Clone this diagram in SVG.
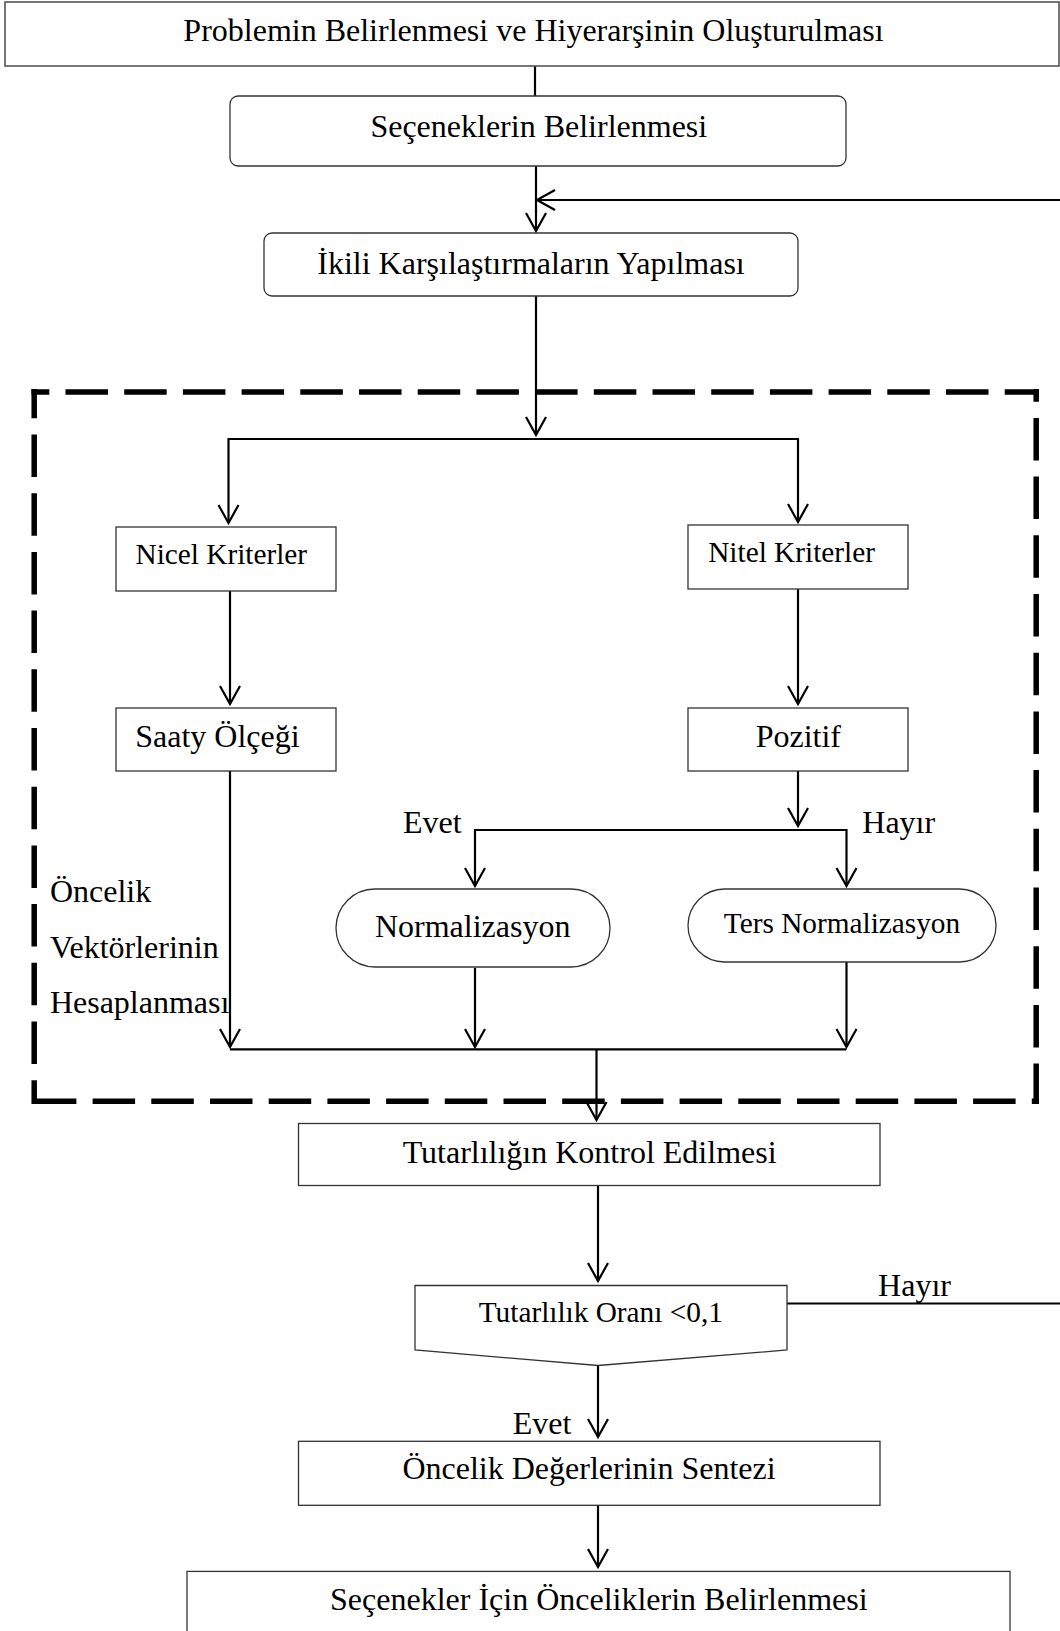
<svg xmlns="http://www.w3.org/2000/svg" width="1060" height="1631" viewBox="0 0 1060 1631">
<style>
text{font-family:"Liberation Serif","Times New Roman",serif;font-size:32px;fill:#000;text-anchor:middle}
.s{font-size:29.3px}
.l{text-anchor:start}
.box{fill:#fff;stroke:#333;stroke-width:1.3}
.con{fill:none;stroke:#000;stroke-width:2.2}
.dash{fill:none;stroke:#000;stroke-width:5.5;stroke-dasharray:42.5 16.2}
</style>
<defs>
<marker id="ah" markerUnits="userSpaceOnUse" markerWidth="24" markerHeight="24" viewBox="-20 -12 24 24" refX="0" refY="0" orient="auto">
<path d="M-18,-10 L0,0 L-18,10" fill="none" stroke="#000" stroke-width="2.2"/>
</marker>
</defs>
<g id="frame">
<line class="dash" x1="31.5" y1="392" x2="1039" y2="392" stroke-dashoffset="24.7"/>
<line class="dash" x1="34.2" y1="389" x2="34.2" y2="1104" stroke-dashoffset="13.2"/>
<line class="dash" x1="1036.2" y1="389" x2="1036.2" y2="1104" stroke-dashoffset="29.8"/>
<line class="dash" x1="33.9" y1="1101.3" x2="1039" y2="1101.3"/>
</g>
<g id="connectors">
<path class="con" d="M535,66 V96"/>
<path class="con" d="M536,166 V231" marker-end="url(#ah)"/>
<path class="con" d="M787,1303.5 H1075 V200 H537" stroke-width="2.6" marker-end="url(#ah)"/>
<path class="con" d="M536,296 V435" marker-end="url(#ah)"/>
<path class="con" d="M536,439 H228.5 V523" marker-end="url(#ah)"/>
<path class="con" d="M536,439 H798 V522" marker-end="url(#ah)"/>
<path class="con" d="M230,591 V704" marker-end="url(#ah)"/>
<path class="con" d="M798,589 V704" marker-end="url(#ah)"/>
<path class="con" d="M798,771 V826" marker-end="url(#ah)"/>
<path class="con" d="M798,830 H475 V886" marker-end="url(#ah)"/>
<path class="con" d="M798,830 H846.5 V886" marker-end="url(#ah)"/>
<path class="con" d="M230,771 V1047" marker-end="url(#ah)"/>
<path class="con" d="M475,968 V1047" marker-end="url(#ah)"/>
<path class="con" d="M846.5,962 V1047" marker-end="url(#ah)"/>
<path class="con" d="M230,1049.3 H846.5"/>
<path class="con" d="M596.5,1049.3 V1120" marker-end="url(#ah)"/>
<path class="con" d="M598,1185 V1281" marker-end="url(#ah)"/>
<path class="con" d="M598,1365 V1437" marker-end="url(#ah)"/>
<path class="con" d="M598,1505 V1567" marker-end="url(#ah)"/>
</g>
<g id="n-title">
<rect x="5" y="2" width="1054" height="64" fill="#fff" stroke="#555" stroke-width="1.6"/>
<text x="533.5" y="41">Problemin Belirlenmesi ve Hiyerarşinin Oluşturulması</text>
</g>
<g id="n-secenekler">
<rect class="box" x="230" y="96" width="616" height="70" rx="8"/>
<text x="538.8" y="137">Seçeneklerin Belirlenmesi</text>
</g>
<g id="n-ikili">
<rect class="box" x="264" y="233" width="534" height="63" rx="8"/>
<text x="531" y="274">İkili Karşılaştırmaların Yapılması</text>
</g>
<g id="n-nicel">
<rect class="box" x="116" y="527" width="220" height="64"/>
<text class="s" x="221.3" y="564">Nicel Kriterler</text>
</g>
<g id="n-nitel">
<rect class="box" x="688" y="525" width="220" height="64"/>
<text class="s" x="791.6" y="562">Nitel Kriterler</text>
</g>
<g id="n-saaty">
<rect class="box" x="116" y="708" width="220" height="63"/>
<text x="217.4" y="747">Saaty Ölçeği</text>
</g>
<g id="n-pozitif">
<rect class="box" x="688" y="708" width="220" height="63"/>
<text x="798.3" y="747">Pozitif</text>
</g>
<g id="n-normalizasyon">
<rect class="box" x="336" y="889" width="274" height="78" rx="39"/>
<text x="472.7" y="937.3">Normalizasyon</text>
</g>
<g id="n-ters">
<rect class="box" x="688" y="889" width="308" height="73" rx="36.5"/>
<text class="s" x="842" y="933">Ters Normalizasyon</text>
</g>
<g id="n-tutarlilik">
<rect class="box" x="298.5" y="1123.5" width="581.5" height="62"/>
<text x="589.6" y="1162.6">Tutarlılığın Kontrol Edilmesi</text>
</g>
<g id="n-oran">
<polygon class="box" points="415,1285.5 787,1285.5 787,1350 598,1365.5 415,1350"/>
<text class="s" x="600.8" y="1322">Tutarlılık Oranı &lt;0,1</text>
</g>
<g id="n-sentez">
<rect class="box" x="298.5" y="1441.3" width="581.5" height="64"/>
<text x="589" y="1479.3">Öncelik Değerlerinin Sentezi</text>
</g>
<g id="n-son">
<rect class="box" x="187" y="1571.4" width="823" height="90"/>
<text x="598.8" y="1609.6">Seçenekler İçin Önceliklerin Belirlenmesi</text>
</g>
<g id="labels">
<text x="432.2" y="833">Evet</text>
<text x="898.7" y="833">Hayır</text>
<text class="l" x="49.9" y="901.7">Öncelik</text>
<text class="l" x="49.9" y="958">Vektörlerinin</text>
<text class="l" x="49.9" y="1013">Hesaplanması</text>
<text x="914.5" y="1296.4">Hayır</text>
<text x="542" y="1433.6">Evet</text>
</g>
</svg>
